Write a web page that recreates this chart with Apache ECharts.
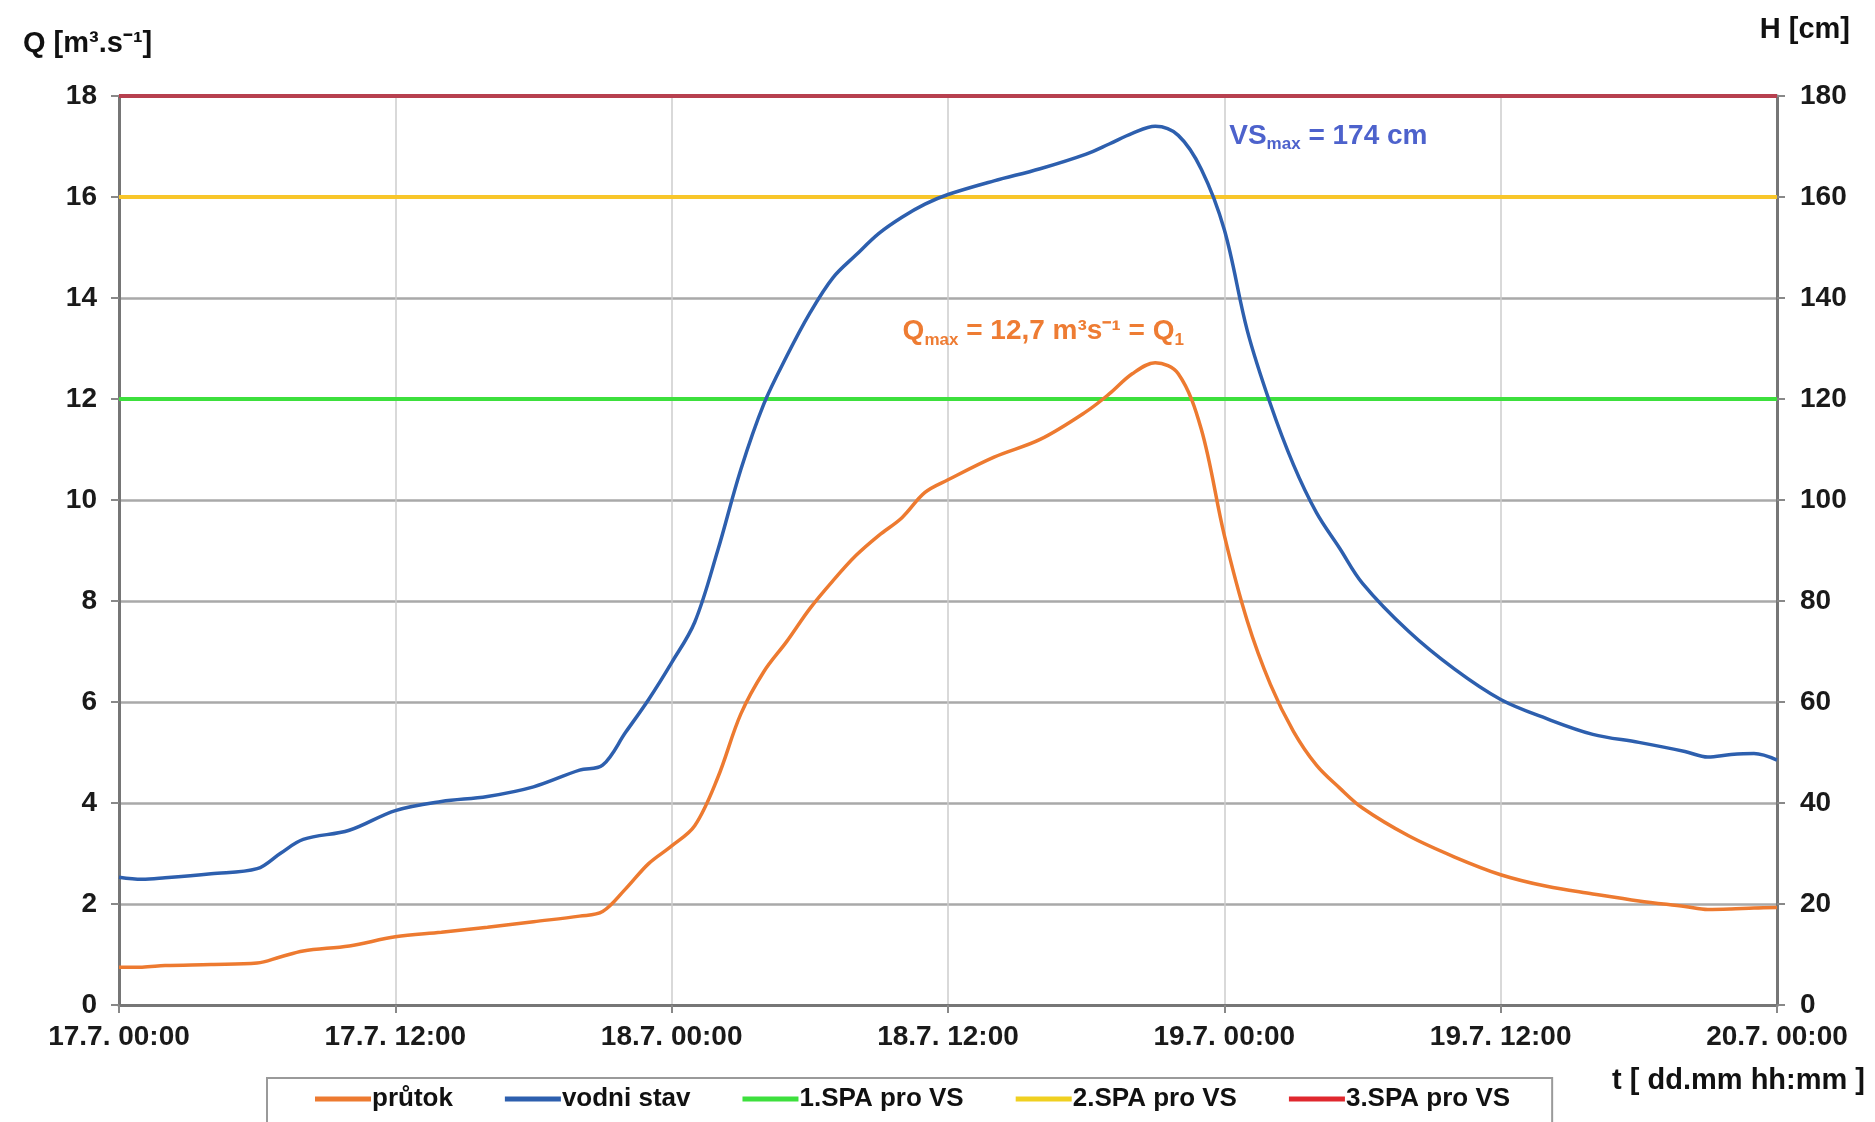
<!DOCTYPE html>
<html>
<head>
<meta charset="utf-8">
<script src="https://cdn.jsdelivr.net/npm/echarts@6/dist/echarts.min.js"></script>
<style>
  html, body { margin: 0; padding: 0; background: #fff; }
  #chart { width: 1875px; height: 1122px; }
</style>
</head>
<body>
<div id="chart"></div>
<script>
// hodiny od 17.7. 00:00
const hours = [0, 1, 2, 4, 6, 7, 8, 10, 12, 14, 16, 18, 20, 21, 22, 23, 24, 25, 26, 27, 28, 29, 30, 31, 32, 33, 34, 35, 36, 38, 40, 42, 43, 44, 45, 46, 47, 48, 49, 50, 51, 52, 53, 54, 56, 58, 60, 62, 64, 66, 68, 69, 70, 71, 72]
// prutok Q [m3/s]
const prutok = [0.75, 0.75, 0.78, 0.8, 0.83, 0.95, 1.07, 1.17, 1.35, 1.44, 1.54, 1.65, 1.76, 1.85, 2.3, 2.8, 3.15, 3.55, 4.5, 5.76, 6.6, 7.2, 7.85, 8.4, 8.9, 9.3, 9.65, 10.15, 10.4, 10.85, 11.2, 11.75, 12.1, 12.5, 12.72, 12.5, 11.4, 9.3, 7.6, 6.35, 5.42, 4.75, 4.3, 3.9, 3.35, 2.93, 2.58, 2.35, 2.2, 2.06, 1.95, 1.89, 1.9, 1.92, 1.93]
// vodni stav H [cm]
const vodniStav = [25.3, 24.9, 25.2, 26.0, 27.0, 30, 32.8, 34.6, 38.5, 40.3, 41.3, 43.2, 46.5, 47.5, 54, 60.5, 67.8, 75.8, 90, 106, 119, 128.5, 137, 144, 148.5, 152.8, 156, 158.6, 160.5, 163.2, 165.6, 168.5, 170.5, 172.6, 174, 172.2, 165.5, 153.5, 133.5, 119, 107, 97.5, 90.5, 83.5, 74, 66.5, 60.5, 56.7, 53.6, 52, 50.2, 49.1, 49.6, 49.8, 48.5]
// stupne povodnove aktivity [cm]
const spaNames = ['1.SPA pro VS', '2.SPA pro VS', '3.SPA pro VS']
const spaLevels = [120, 160, 180]
const xTickLabels = ['17.7. 00:00', '17.7. 12:00', '18.7. 00:00', '18.7. 12:00', '19.7. 00:00', '19.7. 12:00', '20.7. 00:00']

const font = 'Liberation Sans, Arial, sans-serif'
const spaColors = ['#3de03d', '#f8c62a', '#b7404f']
const spaLegendColors = ['#3de03d', '#f0d020', '#e0282e']
const axisLine = { show: true, lineStyle: { color: '#767676', width: 3 } }
const axisTick = { show: true, length: 8, lineStyle: { color: '#888', width: 2 } }
const labelStyle = { color: '#1a1a1a', fontSize: 28, fontWeight: 'bold', fontFamily: font }

const t0 = hours[0]
const t1 = hours[hours.length - 1]

const myChart = echarts.init(document.getElementById('chart'))

const spaSeries = spaLevels.map((lvl, i) => ({
  name: spaNames[i],
  type: 'line',
  yAxisIndex: 1,
  symbol: 'none',
  z: 3,
  lineStyle: { color: spaColors[i], width: 4 },
  itemStyle: { color: spaColors[i] },
  data: [[t0, lvl], [t1, lvl]]
}))

const option = {
  animation: false,
  textStyle: { fontFamily: font },
  grid: { left: 119, right: 98, top: 96, bottom: 117 },
  legend: {
    left: 267,
    top: 1078,
    padding: [8, 42, 40, 48],
    itemGap: 52,
    itemWidth: 56,
    itemHeight: 5,
    icon: 'rect',
    borderColor: '#9a9a9a',
    borderWidth: 2,
    textStyle: { color: '#111', fontSize: 26, fontWeight: 'bold', fontFamily: font, padding: [0, 0, 0, -4] },
    data: [
      { name: 'průtok' },
      { name: 'vodni stav' }
    ].concat(spaNames.map((n, i) => ({ name: n, itemStyle: { color: spaLegendColors[i] } })))
  },
  xAxis: {
    type: 'value',
    min: t0,
    max: t1,
    interval: 12,
    axisLine,
    axisTick,
    axisLabel: Object.assign({}, labelStyle, {
      margin: 18,
      formatter: v => xTickLabels[Math.round(v / 12)]
    }),
    splitLine: { show: true, lineStyle: { color: '#cdcdcd', width: 1.5 } }
  },
  yAxis: [
    {
      type: 'value',
      min: 0,
      max: 18,
      interval: 2,
      axisLine,
      axisTick,
      axisLabel: Object.assign({}, labelStyle, { margin: 22 }),
      splitLine: { show: true, lineStyle: { color: '#a9a9a9', width: 2.5 } }
    },
    {
      type: 'value',
      min: 0,
      max: 180,
      interval: 20,
      axisLine,
      axisTick,
      axisLabel: Object.assign({}, labelStyle, { margin: 23 }),
      splitLine: { show: false }
    }
  ],
  graphic: [
    { type: 'text', left: 23, top: 29, style: { text: 'Q [m³.s⁻¹]', fill: '#111', font: 'bold 29px ' + font } },
    { type: 'text', right: 25, top: 15, style: { text: 'H [cm]', fill: '#111', font: 'bold 29px ' + font } },
    { type: 'text', right: 10, top: 1066, style: { text: 't [ dd.mm hh:mm ]', fill: '#111', font: 'bold 29px ' + font } }
  ],
  series: [
    {
      name: 'průtok',
      type: 'line',
      yAxisIndex: 0,
      smooth: 0.35,
      symbol: 'none',
      z: 5,
      lineStyle: { color: '#ed7a30', width: 3.5 },
      itemStyle: { color: '#ed7a30' },
      data: hours.map((h, i) => [h, prutok[i]]),
      markPoint: {
        symbol: 'circle',
        symbolSize: 0,
        data: [{ coord: [45, 12.72] }],
        label: {
          show: true,
          position: 'top',
          distance: 14,
          offset: [-112, 0],
          formatter: '{b|Q}{s|max}{b| = 12,7 m³s⁻¹ = Q}{s|1}',
          rich: {
            b: { fontSize: 28, fontWeight: 'bold', color: '#ee7c33', lineHeight: 34, fontFamily: font },
            s: { fontSize: 17, fontWeight: 'bold', color: '#ee7c33', lineHeight: 16, verticalAlign: 'bottom', fontFamily: font }
          }
        }
      }
    },
    {
      name: 'vodni stav',
      type: 'line',
      yAxisIndex: 1,
      smooth: 0.35,
      symbol: 'none',
      z: 5,
      lineStyle: { color: '#2d5fae', width: 3.5 },
      itemStyle: { color: '#2d5fae' },
      data: hours.map((h, i) => [h, vodniStav[i]]),
      markPoint: {
        symbol: 'circle',
        symbolSize: 0,
        data: [{ coord: [45, 174] }],
        label: {
          show: true,
          position: 'right',
          distance: 0,
          offset: [74, 10],
          formatter: '{b|VS}{s|max}{b| = 174 cm}',
          rich: {
            b: { fontSize: 28, fontWeight: 'bold', color: '#4d62cc', lineHeight: 34, fontFamily: font },
            s: { fontSize: 17, fontWeight: 'bold', color: '#4d62cc', lineHeight: 16, verticalAlign: 'bottom', fontFamily: font }
          }
        }
      }
    }
  ].concat(spaSeries)
}

myChart.setOption(option)
</script>
</body>
</html>
